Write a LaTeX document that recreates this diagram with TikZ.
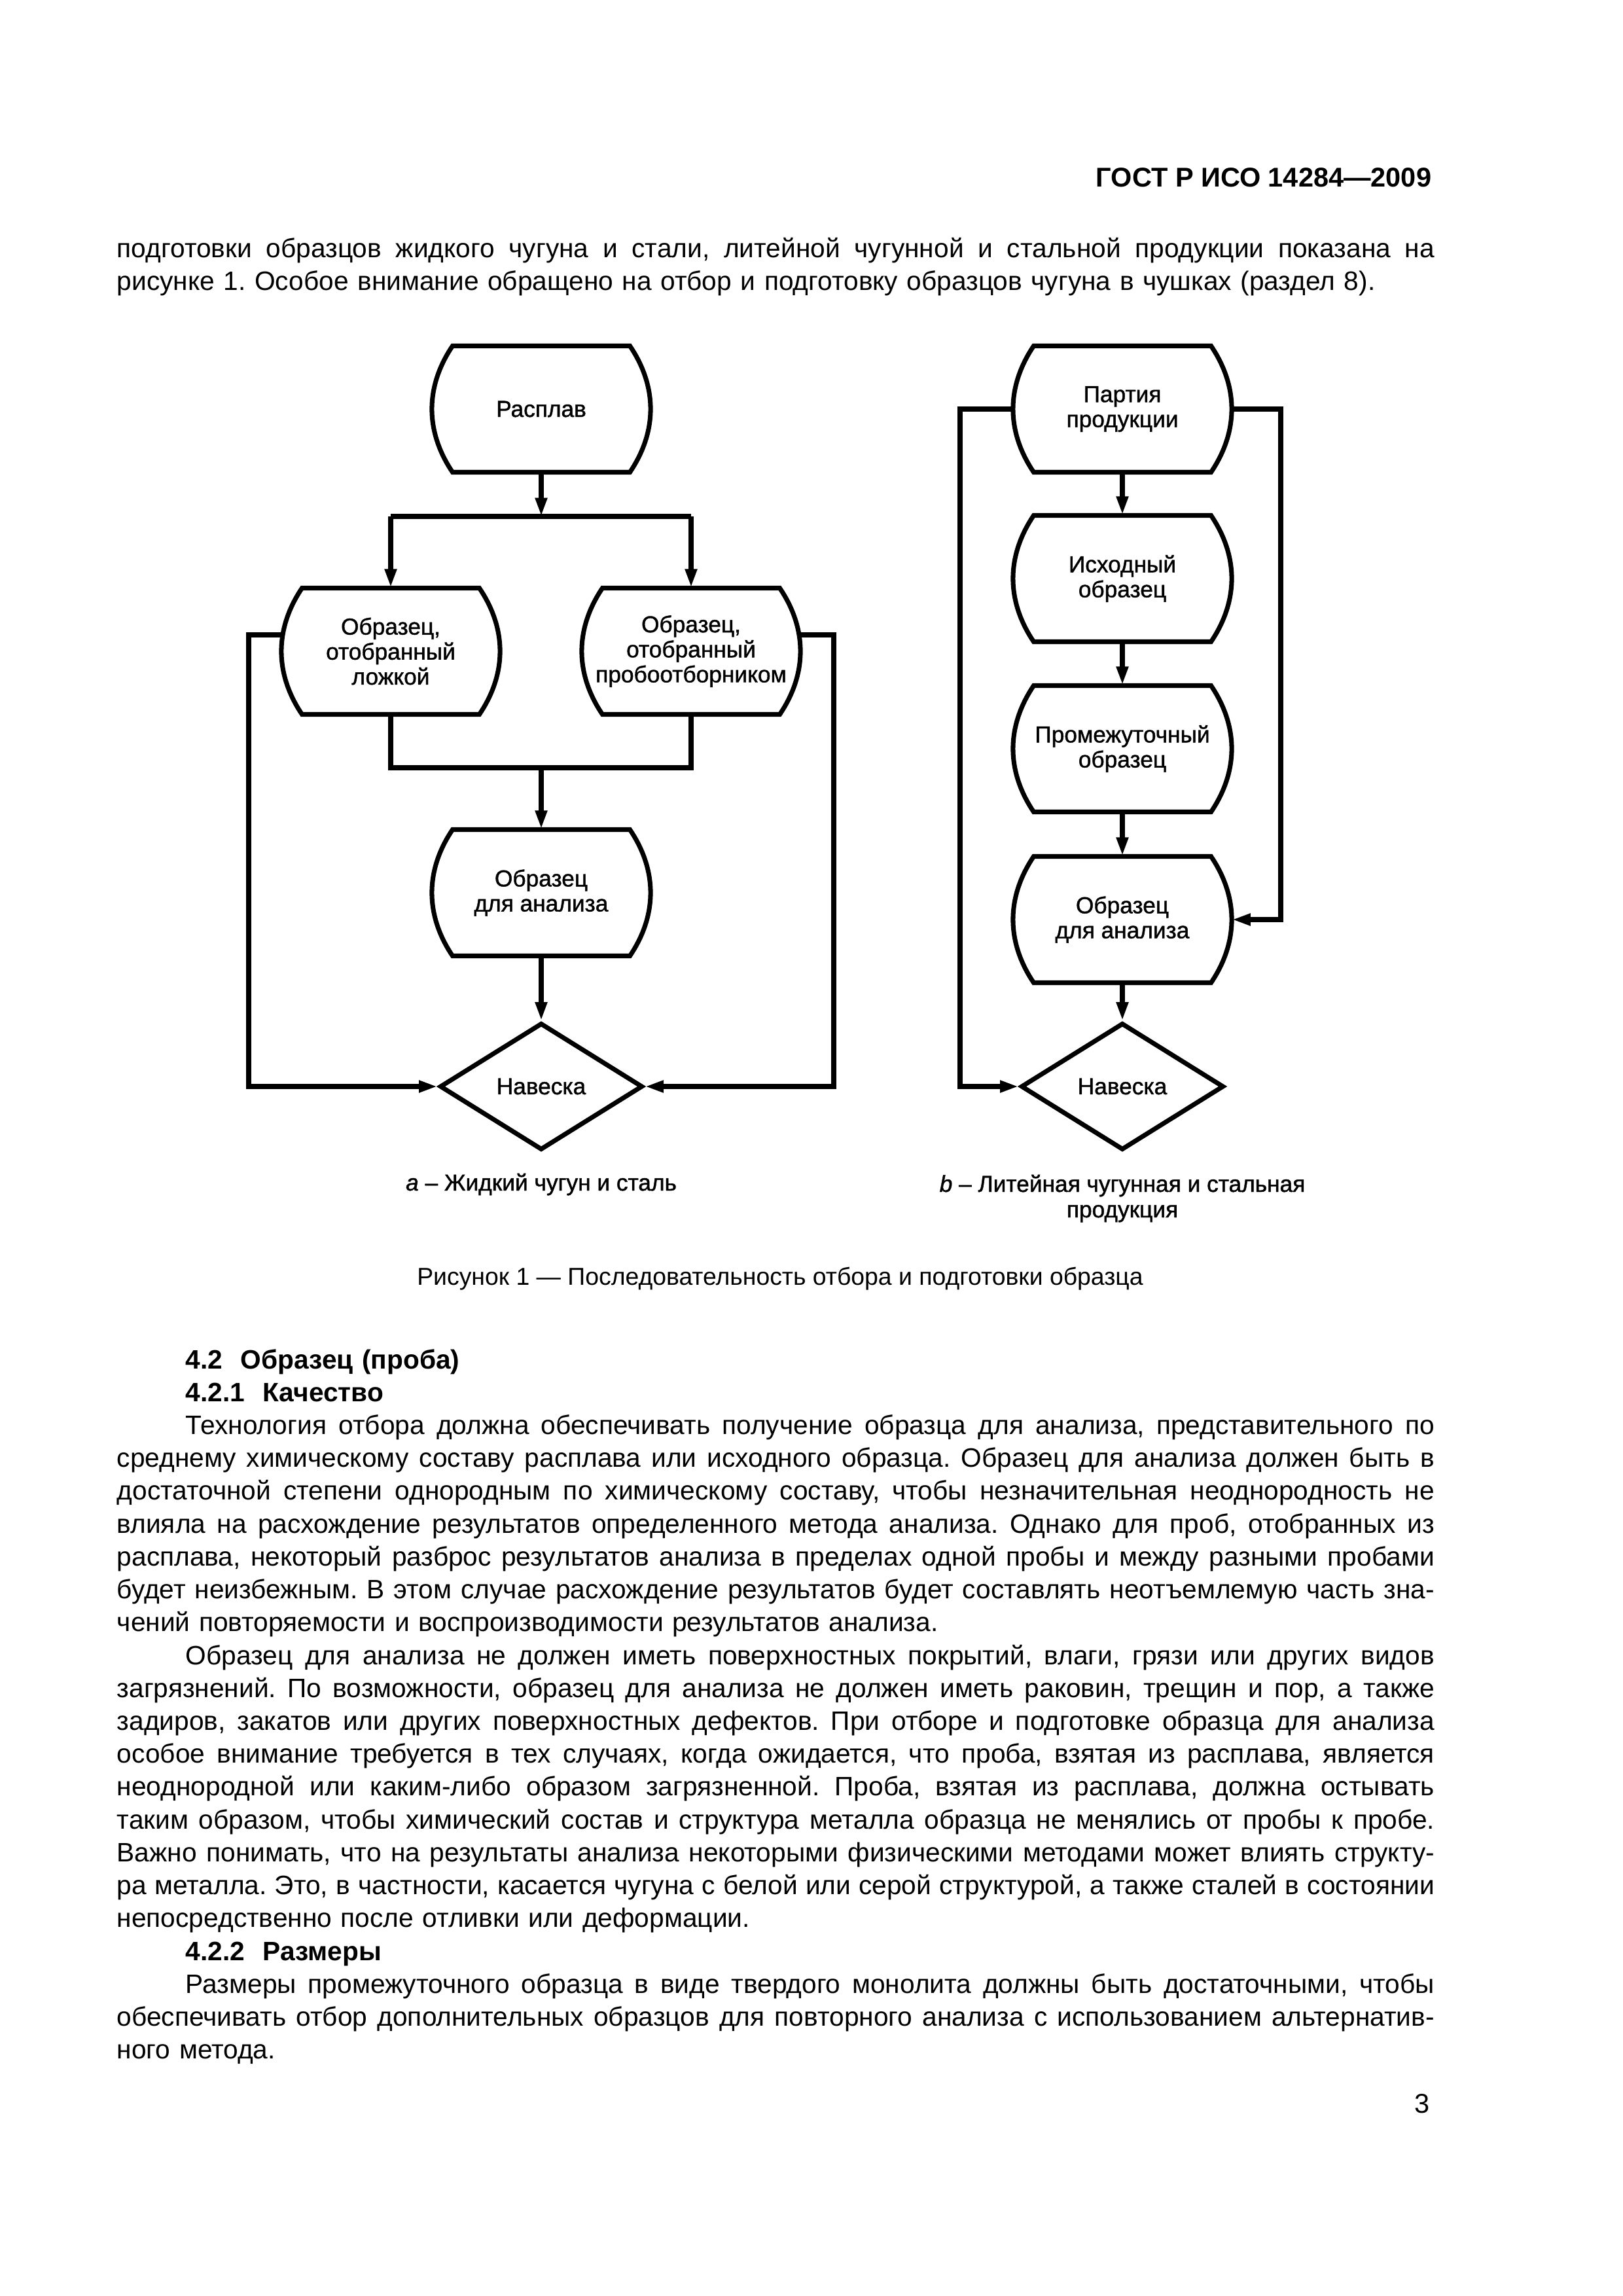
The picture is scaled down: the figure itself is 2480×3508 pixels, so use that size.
\documentclass[tikz,border=0pt]{standalone}
\usepackage{fontspec}
\usepackage{graphicx}
\setmainfont{Liberation Sans}
\newfontfamily\figfont[FakeBold=1.2]{Liberation Sans}
\usetikzlibrary{arrows.meta,shapes.geometric,calc}
\newcommand\boxfont{\figfont\fontsize{8.5}{9.2}\selectfont}
\newcommand\firstind{\hspace*{8.9mm}}
\newcommand\wsp{\spaceskip=.278em plus .6em minus .1em\xspaceskip=\spaceskip\relax}
\newcommand\jline[1]{\noindent\setbox0\hbox{\wsp#1}\ifdim\wd0>\hsize\hbox to\hsize{\resizebox{\hsize}{\height}{\wsp#1}}\else\hbox to\hsize{\wsp#1}\fi\par}
\newcommand\lline[1]{\noindent\hbox to\hsize{#1\hfil}\par}
\frenchspacing

\begin{document}
\begin{tikzpicture}[x=0.0846774mm,y=-0.0846774mm,
    conn/.style={line width=1.7pt},
    arr/.style={conn,-{Triangle[length=2.4mm,width=1.45mm]}},
    barrel/.style={minimum width=22.95mm,minimum height=16.34mm,inner sep=0pt,align=center,font=\boxfont},
    weigh/.style={diamond,draw,line width=1.7pt,minimum width=26.25mm,minimum height=16.43mm,inner sep=0pt,font=\boxfont},
    caption/.style={inner sep=0pt,align=center,font={\figfont\fontsize{8.5}{9.4}\selectfont}},
    body/.style={inner sep=0pt,text width=170.45mm,font={\fontsize{9.8}{12.1}\selectfont}}]
    \fill[white] (0,0) rectangle (2480,3508);

    % header and text above the figure
    \node[anchor=base east,inner sep=0pt,font=\bfseries] (head) at (2188,285) {ГОСТ Р ИСО 14284—2009};
    \node[body,anchor=base west] (intro) at (178,393) {%
    \jline{подготовки образцов жидкого чугуна и стали, литейной чугунной и стальной продукции показана на}
    \lline{рисунке 1. Особое внимание обращено на отбор и подготовку образцов чугуна в чушках (раздел 8).}};

    % a -- liquid iron and steel
    \node[barrel] (melt) at (827,625) {Расплав};
    \node[barrel] (spoon) at (597,995) {Образец,\\отобранный\\ложкой};
    \node[barrel] (probe) at (1056,995) {Образец,\\отобранный\\пробоотборником};
    \node[barrel] (labA) at (827,1364) {Образец\\для анализа};
    \node[weigh] (weighA) at (827,1660) {Навеска};
    \coordinate (split) at (827,789);
    \coordinate (merge) at (827,1173);
    \coordinate (cornerAL) at (380,1660);
    \coordinate (cornerAR) at (1274,1660);

    % b -- cast iron and steel products
    \node[barrel] (batch) at (1715,625) {Партия\\продукции};
    \node[barrel] (prim) at (1715,884) {Исходный\\образец};
    \node[barrel] (inter) at (1715,1144) {Промежуточный\\образец};
    \node[barrel] (labB) at (1715,1405) {Образец\\для анализа};
    \node[weigh] (weighB) at (1715,1660) {Навеска};
    \coordinate (cornerBL) at (1467,1660);
    \coordinate (cornerBR) at (1957,1405);

    \foreach \n in {melt,spoon,probe,labA,batch,prim,inter,labB}{
      \draw[conn] ($(\n)+(-135.5,-96.5)$) -- ($(\n)+(135.5,-96.5)$) to[bend left=34] ($(\n)+(135.5,96.5)$)
        -- ($(\n)+(-135.5,96.5)$) to[bend left=34] ($(\n)+(-135.5,-96.5)$) -- cycle;
      \coordinate (\n-l) at ($(\n)+(-167.5,0)$);
      \coordinate (\n-r) at ($(\n)+(167.5,0)$);
    }

    \draw[arr] (melt) -- (split);
    \draw[conn] (split -| spoon) -- (split -| probe);
    \draw[arr] (split -| spoon) -- (spoon);
    \draw[arr] (split -| probe) -- (probe);
    \draw[conn] (spoon) |- (merge) -| (probe);
    \draw[arr] (merge) -- (labA);
    \draw[arr] (labA) -- (weighA);
    \draw[arr] ($(spoon-l)+(1,-25)$) -| (cornerAL) -- (weighA.west);
    \draw[arr] ($(probe-r)+(-1,-25)$) -| (cornerAR) -- (weighA.east);

    \draw[arr] (batch) -- (prim);
    \draw[arr] (prim) -- (inter);
    \draw[arr] (inter) -- (labB);
    \draw[arr] (labB) -- (weighB);
    \draw[arr] (batch-l) -| (cornerBL) -- (weighB.west);
    \draw[arr] (batch-r) -| (cornerBR) -- (labB-r);

    \node[caption,anchor=base] (capA) at (827,1819) {\textit{a} – Жидкий чугун и сталь};
    \node[caption,anchor=base] (capB) at (1715,1860) {\textit{b} – Литейная чугунная и стальная\\продукция};
    \node[anchor=base,inner sep=0pt,font={\fontsize{9}{11}\selectfont}] (fig) at (1192,1963)
      {Рисунок 1 — Последовательность отбора и подготовки образца};

    % section 4.2
    \node[body,anchor=base west] (sect) at (178,2091) {%
    \lline{\firstind\textbf{4.2\ \ Образец (проба)}}
    \lline{\firstind\textbf{4.2.1\ \ Качество}}
    \jline{\firstind Технология отбора должна обеспечивать получение образца для анализа, представительного по}
    \jline{среднему химическому составу расплава или исходного образца. Образец для анализа должен быть в}
    \jline{достаточной степени однородным по химическому составу, чтобы незначительная неоднородность не}
    \jline{влияла на расхождение результатов определенного метода анализа. Однако для проб, отобранных из}
    \jline{расплава, некоторый разброс результатов анализа в пределах одной пробы и между разными пробами}
    \jline{будет неизбежным. В этом случае расхождение результатов будет составлять неотъемлемую часть зна-}
    \lline{чений повторяемости и воспроизводимости результатов анализа.}
    \jline{\firstind Образец для анализа не должен иметь поверхностных покрытий, влаги, грязи или других видов}
    \jline{загрязнений. По возможности, образец для анализа не должен иметь раковин, трещин и пор, а также}
    \jline{задиров, закатов или других поверхностных дефектов. При отборе и подготовке образца для анализа}
    \jline{особое внимание требуется в тех случаях, когда ожидается, что проба, взятая из расплава, является}
    \jline{неоднородной или каким-либо образом загрязненной. Проба, взятая из расплава, должна остывать}
    \jline{таким образом, чтобы химический состав и структура металла образца не менялись от пробы к пробе.}
    \jline{Важно понимать, что на результаты анализа некоторыми физическими методами может влиять структу-}
    \jline{ра металла. Это, в частности, касается чугуна с белой или серой структурой, а также сталей в состоянии}
    \lline{непосредственно после отливки или деформации.}
    \lline{\firstind\textbf{4.2.2\ \ Размеры}}
    \jline{\firstind Размеры промежуточного образца в виде твердого монолита должны быть достаточными, чтобы}
    \jline{обеспечивать отбор дополнительных образцов для повторного анализа с использованием альтернатив-}
    \lline{ного метода.}};

    \node[anchor=base east,inner sep=0pt] (pnum) at (2185,3228) {3};
\end{tikzpicture}
\end{document}
